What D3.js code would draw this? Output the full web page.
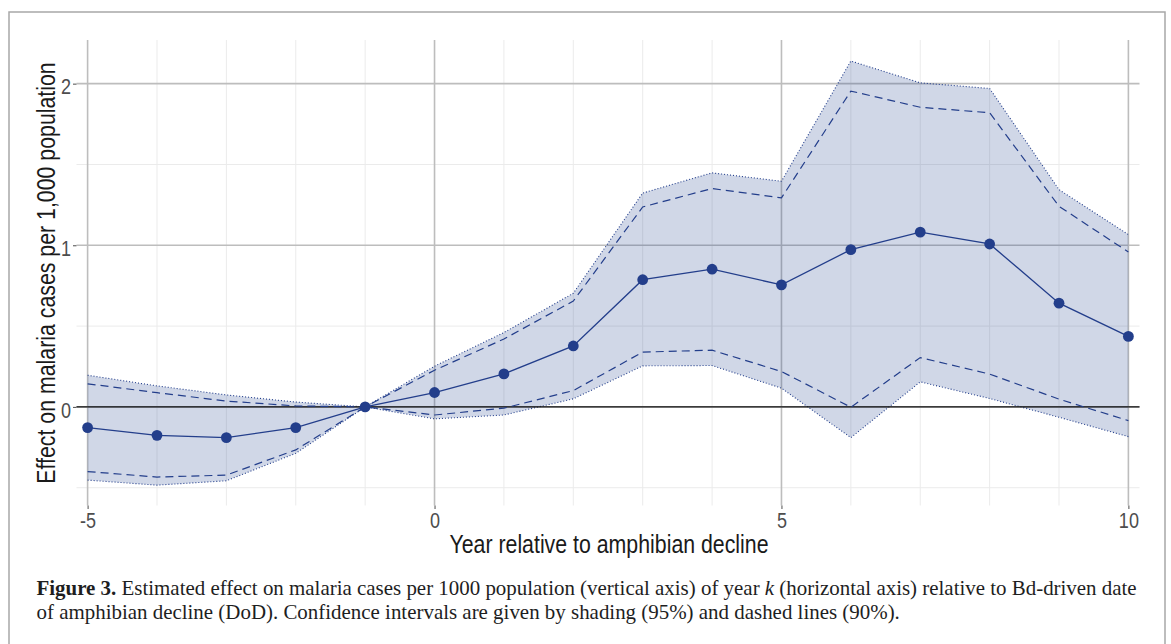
<!DOCTYPE html>
<html>
<head>
<meta charset="utf-8">
<script src="https://cdn.jsdelivr.net/npm/d3@7"></script>
<style>
  html, body { margin: 0; padding: 0; background: #fff; }
  svg { display: block; }
</style>
</head>
<body>
<svg id="chart" width="1171" height="644"></svg>
<script>
// ---- data ----
const years    = [-5, -4, -3, -2, -1, 0, 1, 2, 3, 4, 5, 6, 7, 8, 9, 10];
const estimate = [-0.128, -0.176, -0.190, -0.128, 0, 0.089, 0.204, 0.377, 0.787, 0.852, 0.755, 0.973, 1.081, 1.008, 0.642, 0.436];
const upper95  = [0.196, 0.130, 0.074, 0.030, 0, 0.252, 0.460, 0.703, 1.323, 1.448, 1.396, 2.140, 2.005, 1.970, 1.344, 1.066];
const upper90  = [0.143, 0.088, 0.036, 0.006, 0, 0.227, 0.420, 0.655, 1.237, 1.351, 1.293, 1.954, 1.854, 1.820, 1.241, 0.958];
const lower90  = [-0.400, -0.434, -0.422, -0.266, 0, -0.050, -0.008, 0.101, 0.339, 0.351, 0.219, -0.002, 0.305, 0.203, 0.048, -0.085];
const lower95  = [-0.453, -0.484, -0.457, -0.287, 0, -0.074, -0.050, 0.050, 0.254, 0.256, 0.116, -0.190, 0.155, 0.052, -0.064, -0.184];

const xMajorTicks = [-5, 0, 5, 10];
const xMinorTicks = [-4, -3, -2, -1, 1, 2, 3, 4, 6, 7, 8, 9];
const yMajorTicks = [0, 1, 2];
const yMinorTicks = [-0.5, 0.5, 1.5];

const xTitle = "Year relative to amphibian decline";
const yTitle = "Effect on malaria cases per 1,000 population";
const captionLine1 = [
  {t: "Figure 3.", w: "bold"},
  {t: " Estimated effect on malaria cases per 1000 population (vertical axis) of year "},
  {t: "k", s: "italic"},
  {t: " (horizontal axis) relative to Bd-driven date"}
];
const captionLine2 = [
  {t: "of amphibian decline (DoD). Confidence intervals are given by shading (95%) and dashed lines (90%)."}
];

// ---- layout ----
const svg = d3.select("#chart");
const panel = {left: 76.5, right: 1139.5, top: 40, bottom: 505.5};
const blue = "#233e8b";
const sans = "'Liberation Sans', Arial, sans-serif";
const serif = "'Liberation Serif', 'Times New Roman', serif";
const narrow = 0.82; // Arial-Narrow-like horizontal compression

svg.append("rect").attr("width", 1171).attr("height", 644).attr("fill", "#fff");

// frame
svg.append("path")
  .attr("d", "M9,650 L9,12 L1165,12 L1165,650")
  .attr("fill", "none").attr("stroke", "#a8a8a8").attr("stroke-width", 1.5);

const x = d3.scaleLinear().domain([-5.16, 10.16]).range([panel.left, panel.right]);
const y = d3.scaleLinear().domain([-0.61, 2.27]).range([panel.bottom, panel.top]);

const rows = years.map((yr, i) => ({
  yr, est: estimate[i], u95: upper95[i], u90: upper90[i], l90: lower90[i], l95: lower95[i]
}));

// grid
const g = svg.append("g");
g.selectAll(".ymin").data(yMinorTicks).enter().append("line")
  .attr("x1", panel.left).attr("x2", panel.right)
  .attr("y1", d => y(d)).attr("y2", d => y(d))
  .attr("stroke", "#ebebeb").attr("stroke-width", 1);
g.selectAll(".xmin").data(xMinorTicks).enter().append("line")
  .attr("y1", panel.top).attr("y2", panel.bottom)
  .attr("x1", d => x(d)).attr("x2", d => x(d))
  .attr("stroke", "#ebebeb").attr("stroke-width", 1);
g.selectAll(".ymaj").data(yMajorTicks).enter().append("line")
  .attr("x1", panel.left).attr("x2", panel.right)
  .attr("y1", d => y(d)).attr("y2", d => y(d))
  .attr("stroke", "#bdbdbd").attr("stroke-width", 1.6);
g.selectAll(".xmaj").data(xMajorTicks).enter().append("line")
  .attr("y1", panel.top).attr("y2", panel.bottom)
  .attr("x1", d => x(d)).attr("x2", d => x(d))
  .attr("stroke", "#bdbdbd").attr("stroke-width", 1.6);

// ribbon 95%
const area = d3.area().x(d => x(d.yr)).y0(d => y(d.l95)).y1(d => y(d.u95));
svg.append("path").datum(rows).attr("d", area)
  .attr("fill", "rgb(34,64,140)").attr("fill-opacity", 0.21);

// dotted borders of ribbon
const lineOf = key => d3.line().x(d => x(d.yr)).y(d => y(d[key]));
["u95", "l95"].forEach(k => {
  svg.append("path").datum(rows).attr("d", lineOf(k))
    .attr("fill", "none").attr("stroke", blue).attr("stroke-width", 1.1)
    .attr("stroke-dasharray", "1,2");
});

// zero line
svg.append("line")
  .attr("x1", panel.left).attr("x2", panel.right)
  .attr("y1", y(0)).attr("y2", y(0))
  .attr("stroke", "#111").attr("stroke-width", 1.2);

// dashed 90%
["u90", "l90"].forEach(k => {
  svg.append("path").datum(rows).attr("d", lineOf(k))
    .attr("fill", "none").attr("stroke", blue).attr("stroke-width", 1.2)
    .attr("stroke-dasharray", "8,5");
});

// estimate line + points
svg.append("path").datum(rows).attr("d", lineOf("est"))
  .attr("fill", "none").attr("stroke", blue).attr("stroke-width", 1.3);
svg.selectAll(".pt").data(rows).enter().append("circle")
  .attr("cx", d => x(d.yr)).attr("cy", d => y(d.est)).attr("r", 5.4)
  .attr("fill", blue);

// axes (ticks + labels)
const fmt = d => String(d);
const yAxis = d3.axisLeft(y).tickValues(yMajorTicks).tickSize(3.5).tickPadding(2).tickFormat(fmt);
const ya = svg.append("g").attr("transform", `translate(${panel.left},0)`).call(yAxis);
const xAxis = d3.axisBottom(x).tickValues(xMajorTicks).tickSize(3.5).tickPadding(3).tickFormat(fmt);
const xa = svg.append("g").attr("transform", `translate(0,${panel.bottom})`).call(xAxis);
[ya, xa].forEach(a => {
  a.select(".domain").remove();
  a.selectAll(".tick line").attr("stroke", "#4d4d4d").attr("stroke-width", 1);
  a.selectAll(".tick text").attr("fill", "#4d4d4d")
    .style("font-family", sans).style("font-size", "22px")
    .attr("transform", `scale(${narrow},1)`);
});
ya.selectAll(".tick text").attr("x", -5.5 / narrow).attr("dy", "0.46em");
xa.selectAll(".tick text").attr("dy", "0.72em");

// axis titles
svg.append("text")
  .attr("transform", `translate(609,553) scale(${narrow},1)`)
  .attr("text-anchor", "middle")
  .style("font-family", sans).style("font-size", "26px").attr("fill", "#1a1a1a")
  .text(xTitle);
svg.append("text")
  .attr("transform", `translate(55,273) rotate(-90) scale(${narrow},1)`)
  .attr("text-anchor", "middle")
  .style("font-family", sans).style("font-size", "26px").attr("fill", "#1a1a1a")
  .text(yTitle);

// caption
function caption(parts, yPos, size) {
  const t = svg.append("text").attr("x", 36.5).attr("y", yPos)
    .style("font-family", serif).style("font-size", size + "px").attr("fill", "#1e1e1e");
  parts.forEach(p => {
    t.append("tspan").text(p.t)
      .style("font-weight", p.w || "normal")
      .style("font-style", p.s || "normal");
  });
  return t;
}
const c1 = caption(captionLine1, 595, 20);
const w1 = c1.node().getComputedTextLength();
const capSize = 20 * 1101 / w1;
c1.style("font-size", capSize + "px");
caption(captionLine2, 619, capSize);
</script>
</body>
</html>
